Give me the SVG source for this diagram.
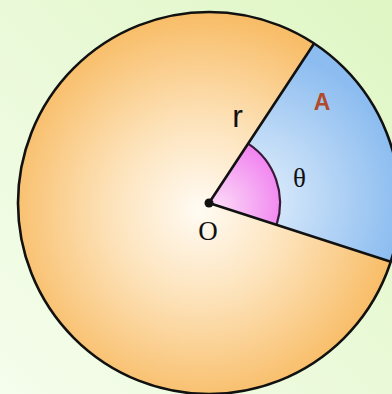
<svg xmlns="http://www.w3.org/2000/svg" width="392" height="394" viewBox="0 0 392 394">
<defs>
<linearGradient id="bg" x1="1" y1="0" x2="0" y2="1">
<stop offset="0" stop-color="#dff6c4"/>
<stop offset="1" stop-color="#f5fdec"/>
</linearGradient>
<radialGradient id="orange" cx="200" cy="210" r="195" gradientUnits="userSpaceOnUse">
<stop offset="0" stop-color="#fffbf4"/>
<stop offset="0.45" stop-color="#fde3bb"/>
<stop offset="1" stop-color="#f8bd68"/>
</radialGradient>
<radialGradient id="blue" cx="250" cy="200" r="150" gradientUnits="userSpaceOnUse">
<stop offset="0" stop-color="#e4f0fc"/>
<stop offset="1" stop-color="#8dbdf0"/>
</radialGradient>
<radialGradient id="pink" cx="220" cy="205" r="70" gradientUnits="userSpaceOnUse">
<stop offset="0" stop-color="#fbd6f6"/>
<stop offset="1" stop-color="#f07ef0"/>
</radialGradient>
<style>
.edge{stroke:#111;stroke-width:2.6;fill:none;stroke-linejoin:round}
.serif{font-family:"Liberation Serif","DejaVu Serif",serif;fill:#111}
.sans{font-family:"Liberation Sans",Arial,sans-serif;fill:#111}
</style>
</defs>
<rect width="392" height="394" fill="url(#bg)"/>
<g id="circle">
<circle cx="209" cy="203" r="191" fill="url(#orange)"/>
</g>
<g id="sector-A">
<path d="M209 203 L314.1 43.5 A191 191 0 0 1 390.8 261.7 Z" fill="url(#blue)"/>
</g>
<g id="angle-theta">
<path d="M209 203 L248.1 143.7 A71 71 0 0 1 276.6 224.8 Z" fill="url(#pink)"/>
<path d="M248.1 143.7 A71 71 0 0 1 276.6 224.8" fill="none" stroke="#3a1a3a" stroke-width="2.2"/>
</g>
<g id="connectors">
<circle cx="209" cy="203" r="191" class="edge"/>
<path d="M314.1 43.5 L209 203 L390.8 261.7" class="edge"/>
</g>
<g id="center-O">
<circle cx="209" cy="203" r="4.5" fill="#111"/>
</g>
<g id="labels">
<text x="237.5" y="127" class="sans" font-size="32" text-anchor="middle">r</text>
<text x="299.5" y="187" class="serif" font-size="27" text-anchor="middle">θ</text>
<text x="208" y="240" class="serif" font-size="27" text-anchor="middle">O</text>
<text x="322" y="110" class="sans" font-weight="bold" font-size="23" fill="#b04a2a" style="fill:#b04a2a" text-anchor="middle">A</text>
</g>
</svg>
